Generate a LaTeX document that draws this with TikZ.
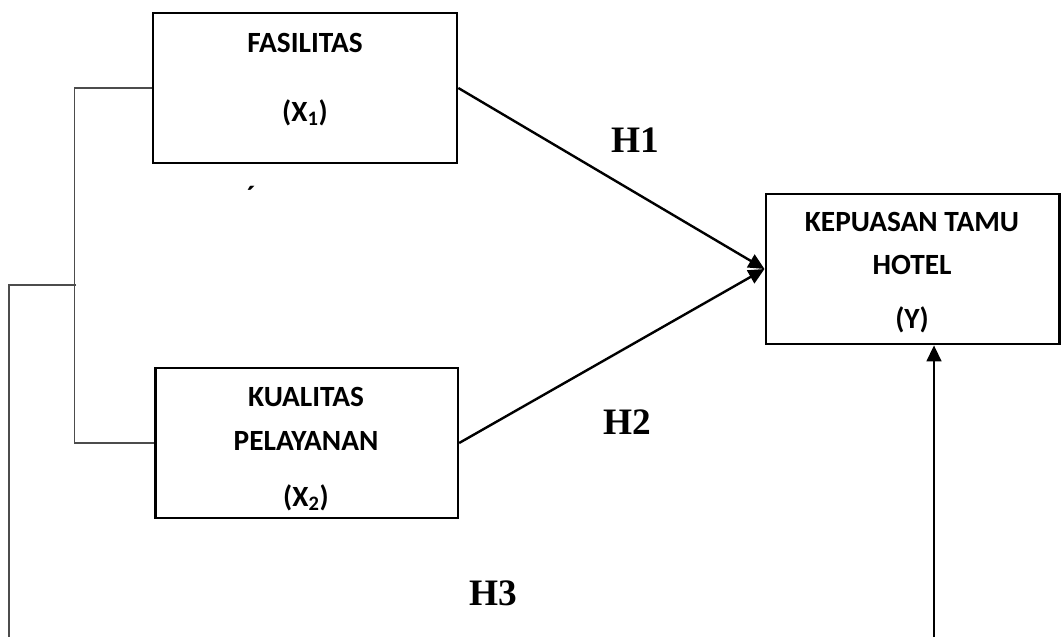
\documentclass[tikz,border=0pt]{standalone}
\usepackage{fontspec}
\setmainfont{Carlito}
\newfontfamily\hfont{Liberation Serif}
\usetikzlibrary{arrows.meta}
\begin{document}
\begin{tikzpicture}[x=0.75pt,y=-0.75pt,
  box/.style={draw,line width=2pt,inner sep=0pt},
  lab/.style={inner sep=0pt,font=\fontsize{22}{26}\selectfont\bfseries},
  hyp/.style={inner sep=0pt,font=\hfont\fontsize{28}{32}\selectfont\bfseries},
  conn/.style={line width=0.9pt,draw=black!70},
  arr/.style={line width=1.8pt,-{Triangle[length=12pt,width=11pt]}}]
\useasboundingbox (0,0) rectangle (1061,637);
% boxes
\node[box,minimum width=228pt,minimum height=112.5pt] (fas) at (305,88) {};
\node[box,minimum width=227pt,minimum height=112.5pt] (kual) at (306.5,443) {};
\node[box,minimum width=220pt,minimum height=112.5pt] (kep) at (912.5,269) {};
% box texts
\node[lab] (t1) at (305,43) {FASILITAS};
\node[lab] (t2) at (305,113) {(X\textsubscript{1})};
\node[lab] (t3) at (306,397) {KUALITAS};
\node[lab] (t4) at (306,441) {PELAYANAN};
\node[lab] (t5) at (306,498) {(X\textsubscript{2})};
\node[lab] (t6) at (912,222) {KEPUASAN TAMU};
\node[lab] (t7) at (912,265) {HOTEL};
\node[lab] (t8) at (912,320) {(Y)};
\node[inner sep=0pt,font=\fontsize{22}{22}\selectfont\bfseries] (tick) at (251,196) {´};
% hypothesis labels
\node[hyp] (h1) at (635,140) {H1};
\node[hyp] (h2) at (627,422) {H2};
\node[hyp] (h3) at (493,593) {H3};
% arrows
\draw[arr] (fas.east) -- (kep.west);
\draw[arr] (kual.east) -- (kep.west);
% left bracket
\draw[conn] (fas.west) -- ++(-77,0) |- (kual.west);
\coordinate (mid) at (76,285);
\coordinate (bl) at (9,637);
\draw[conn] (mid) -| (bl);
% H3 arrow
\coordinate (br) at (934,637);
\draw[arr] (br) -- (br |- kep.south);
\end{tikzpicture}
\end{document}
